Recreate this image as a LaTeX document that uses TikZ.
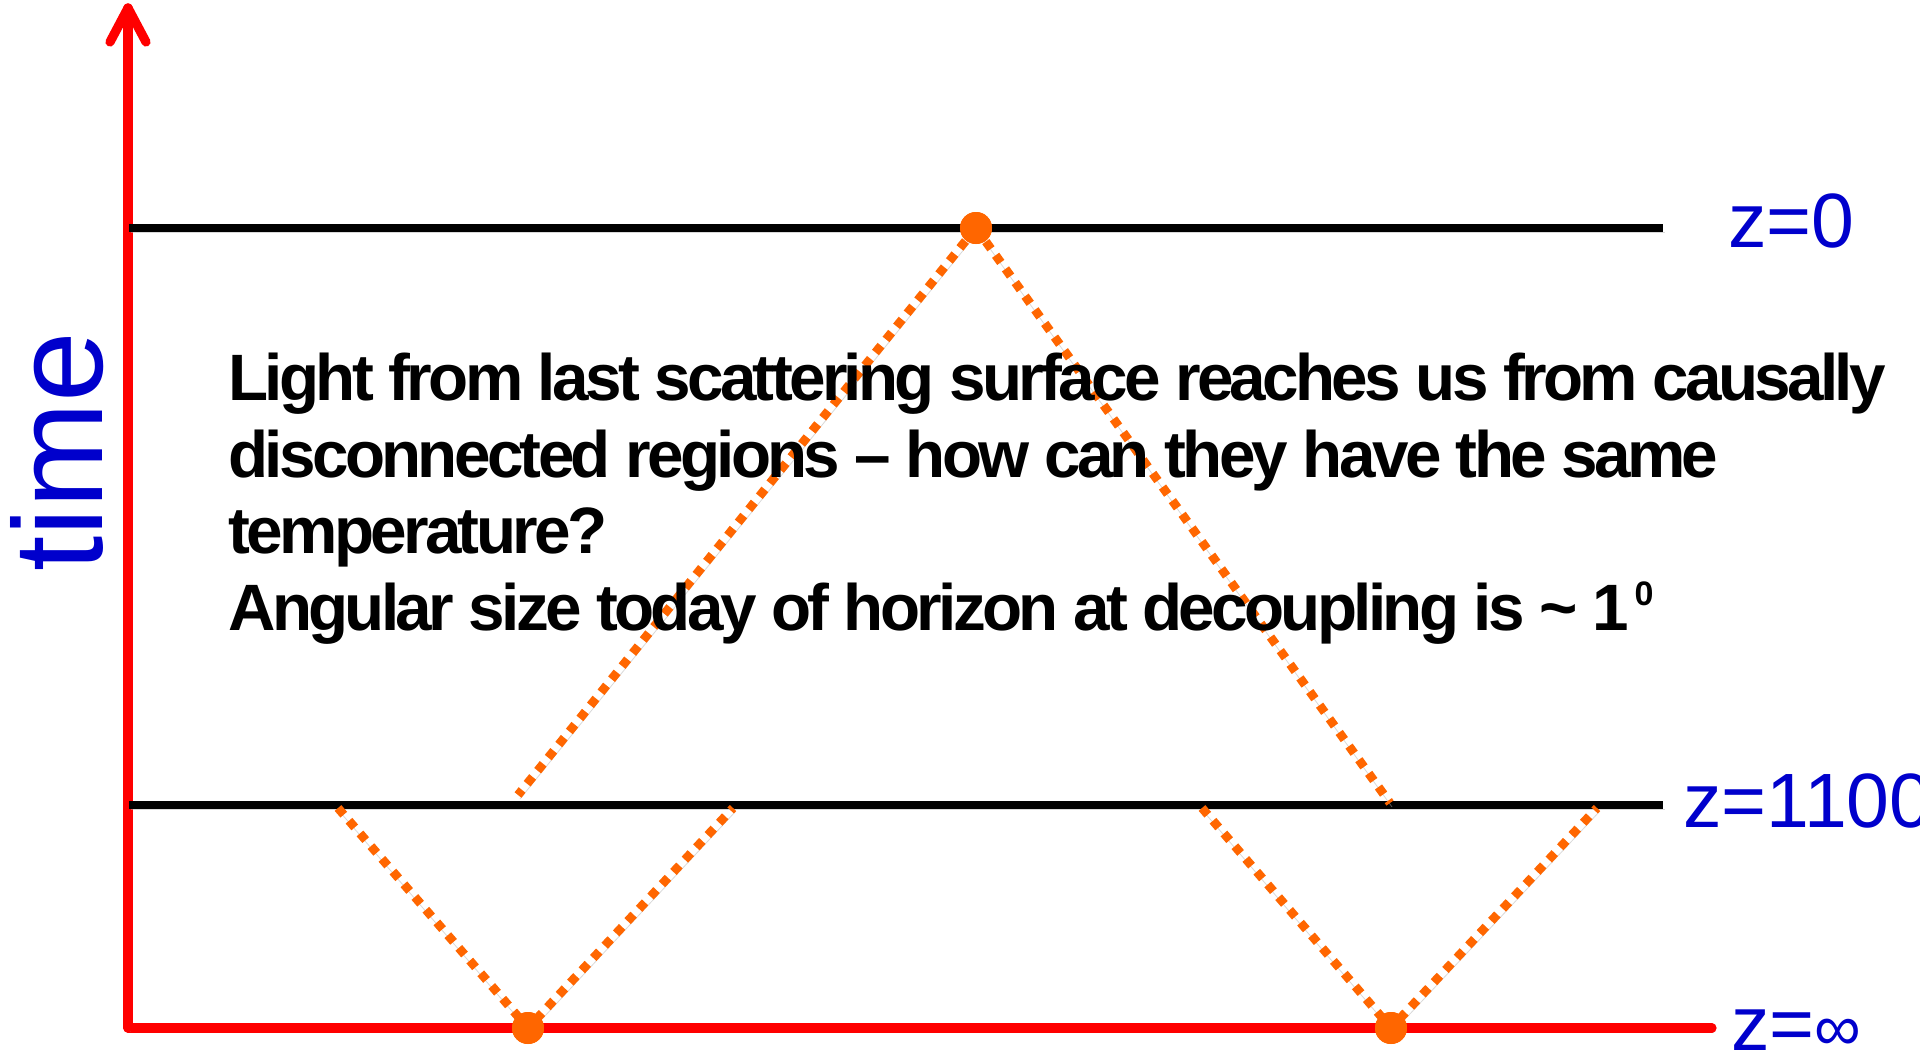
\documentclass[tikz,border=0pt]{standalone}
\usepackage{fontspec}
\setmainfont{Liberation Sans}
\newfontfamily\bodyfont[LetterSpace=-5.6]{Liberation Sans}
\definecolor{zblue}{RGB}{0,0,204}
\definecolor{dotorange}{RGB}{255,102,0}
\definecolor{axisred}{RGB}{255,0,0}
\tikzset{
  lshadow/.style={preaction={draw=black!30, opacity=0.5, transform canvas={xshift=1pt,yshift=-2pt}}},
  axisline/.style={draw=axisred, line width=4.6pt, lshadow},
  zline/.style={draw=black, line width=4pt, lshadow},
  lightray/.style={draw=dotorange, line width=4.4pt, dash pattern=on 4.4pt off 4pt, lshadow},
  event/.style={circle, fill=dotorange, inner sep=0pt, minimum size=16pt},
  zlabel/.style={text=zblue, font=\fontsize{38.5pt}{44pt}\selectfont, anchor=base west, inner sep=0pt},
  bodytext/.style={text=black, font=\fontsize{32.8pt}{38pt}\selectfont\bodyfont\bfseries, anchor=base west, inner sep=0pt},
}
\begin{document}
\begin{tikzpicture}[x=0.5pt, y=-0.5pt]
\useasboundingbox (0,0) rectangle (1920,1049);
% axes
\coordinate (origin) at (128,1028);
\coordinate (xend) at (1712,1028);
\coordinate (ytip) at (128,8);
\coordinate (wingL) at (110,42);
\coordinate (wingR) at (146,42);
\draw[axisline, line cap=round] (origin) -- (xend);
\draw[axisline, line cap=round] (origin) -- (ytip);
\draw[axisline, line cap=round, line join=round] (wingL) -- (ytip) -- (wingR);
% redshift lines
\coordinate (z0a) at (129,228);
\coordinate (z0b) at (1663,228);
\coordinate (z1a) at (129,805);
\coordinate (z1b) at (1663,805);
\draw[zline] (z0a) -- (z0b);
\draw[zline] (z1a) -- (z1b);
% events
\node[event] (obs) at (976,228) {};
\node[event] (srcA) at (528,1028) {};
\node[event] (srcB) at (1391,1028) {};
% light cones endpoints
\coordinate (pL) at (518,795);
\coordinate (pR) at (1390,803);
\coordinate (aL) at (338,808);
\coordinate (aR) at (733,808);
\coordinate (bL) at (1202,808);
\coordinate (bR) at (1597,808);
\draw[lightray] (obs.center) -- (pL);
\draw[lightray] (obs.center) -- (pR);
\draw[lightray] (aL) -- (srcA.center) -- (aR);
\draw[lightray] (bL) -- (srcB.center) -- (bR);
\node[event] at (obs) {};
\node[event] at (srcA) {};
\node[event] at (srcB) {};
% labels
\node[zlabel] (lz0) at (1728,247) {z=0};
\node[zlabel] (lz1) at (1683,827) {z=1100};
\node[zlabel] (lzi) at (1731,1050) {z=\scalebox{0.85}{∞}};
\node[text=zblue, font=\fontsize{63.5pt}{70pt}\selectfont, anchor=base west, inner sep=0pt, rotate=90] (time) at (102,572) {time};
% text
\node[bodytext] (t1) at (228,400) {Light from last scattering surface reaches us from causally};
\node[bodytext] (t2) at (228,477) {disconnected regions – how can they have the same};
\node[bodytext] (t3) at (228,553) {temperature?};
\node[bodytext] (t4) at (228,630) {Angular size today of horizon at decoupling is \char"007E\ 1\hspace{3pt}\raisebox{12.5pt}{\fontsize{17pt}{18pt}\selectfont 0}};
\end{tikzpicture}
\end{document}
